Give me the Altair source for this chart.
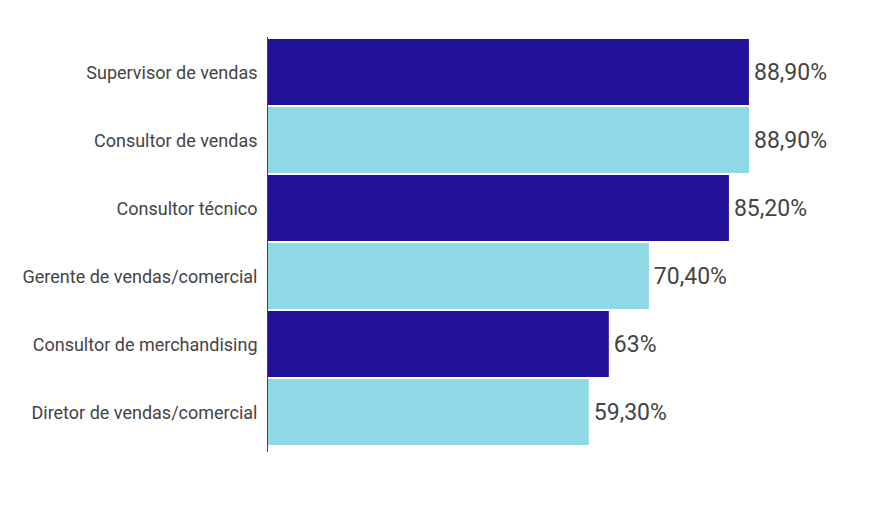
import altair as alt
import pandas as pd

categories = [
    "Supervisor de vendas",
    "Consultor de vendas",
    "Consultor técnico",
    "Gerente de vendas/comercial",
    "Consultor de merchandising",
    "Diretor de vendas/comercial",
]
values = [88.9, 88.9, 85.2, 70.4, 63.0, 59.3]
value_labels = ["88,90%", "88,90%", "85,20%", "70,40%", "63%", "59,30%"]
groups = ["a", "b", "a", "b", "a", "b"]
colors = ["#22129a", "#8fd8e5"]

df = pd.DataFrame({"cat": categories, "val": values, "lbl": value_labels, "grp": groups})

y_enc = alt.Y(
    "cat:N",
    sort=categories,
    title=None,
    scale=alt.Scale(paddingInner=0.03, paddingOuter=0),
    axis=alt.Axis(
        domain=False,
        ticks=False,
        labelFont="Roboto",
        labelFontSize=18,
        labelColor="#444444",
        labelPadding=11,
        labelOffset=2,
        labelLimit=400,
    ),
)
x_enc = alt.X("val:Q", scale=alt.Scale(domain=[0, 100]), axis=None)

bars = alt.Chart(df).mark_bar().encode(
    y=y_enc,
    x=x_enc,
    color=alt.Color("grp:N", scale=alt.Scale(domain=["a", "b"], range=colors), legend=None),
)

text = alt.Chart(df).mark_text(
    align="left", baseline="middle", dx=5, dy=1, font="Roboto", fontSize=23, color="#444444"
).encode(y=alt.Y("cat:N", sort=categories), x="val:Q", text="lbl:N")

rule = alt.Chart(df).mark_rule(color="#444444", strokeWidth=1).encode(
    x=alt.value(-0.5), y=alt.value(-2), y2=alt.value(413)
)

chart = (
    alt.layer(bars, text, rule)
    .properties(
        width=541,
        height=406,
        padding={"left": 260, "top": 31, "right": 66, "bottom": 69},
        autosize=alt.AutoSizeParams(type="none"),
        background="white",
    )
    .configure_view(strokeWidth=0, stroke="transparent")
)

chart.save("out.html", embed_options={"renderer": "svg", "actions": False})
